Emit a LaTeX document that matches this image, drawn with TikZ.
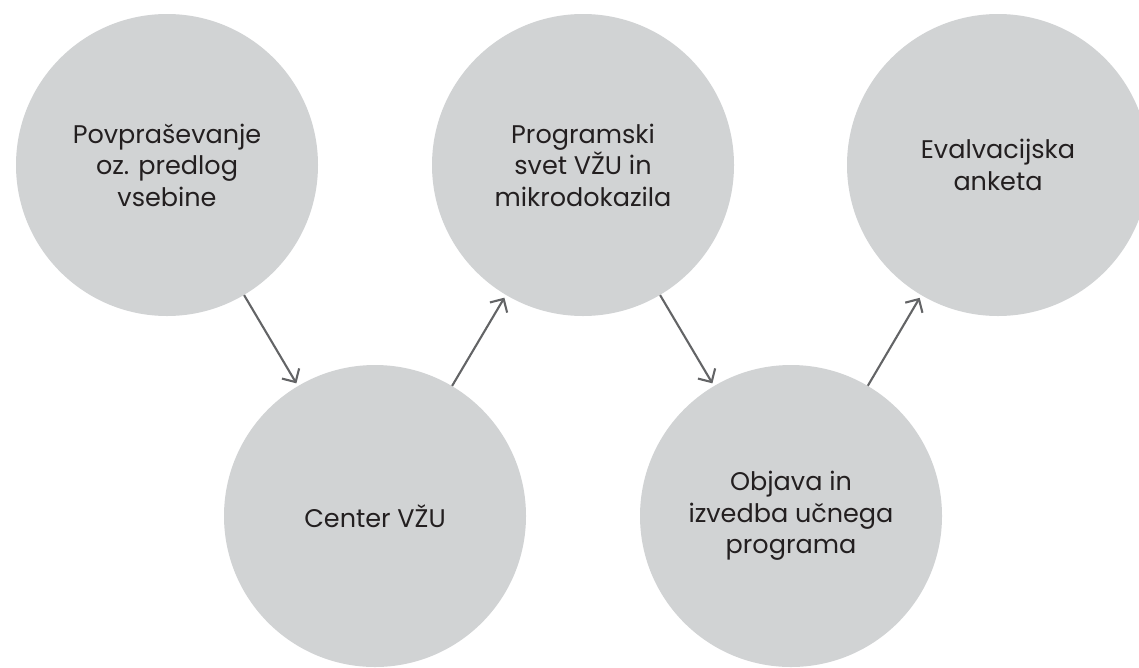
\documentclass[tikz,border=0pt]{standalone}
\usepackage{fontspec}
\setmainfont{Poppins}
\usetikzlibrary{arrows.meta}
\definecolor{circfill}{HTML}{D1D3D4}
\definecolor{arrowgray}{HTML}{636466}
\definecolor{txt}{HTML}{231F20}
\begin{document}
\begin{tikzpicture}[x=1pt,y=-1pt,
  stage/.style={circle, fill=circfill, minimum size=302pt, inner sep=0pt, align=center, text=txt, font=\fontsize{25.5}{31.5}\selectfont},
  flow/.style={draw=arrowgray, line width=2.1pt, -{Straight Barb[length=10pt,width=20pt,line width=2.1pt]}, shorten >=3pt}]
\useasboundingbox (0,0) rectangle (1139,667);
\clip (0,0) rectangle (1139,667);
\node[stage] (a) at (167,165) {Povpraševanje\\oz. predlog\\vsebine};
\node[stage] (b) at (375,516) {Center VŽU};
\node[stage] (c) at (583,165) {Programski\\svet VŽU in\\mikrodokazila};
\node[stage] (d) at (791,516) {Objava in\\izvedba učnega\\programa};
\node[stage] (e) at (998,165) {Evalvacijska\\anketa};
\draw[flow] (a) -- (b);
\draw[flow] (b) -- (c);
\draw[flow] (c) -- (d);
\draw[flow] (d) -- (e);
\end{tikzpicture}
\end{document}
